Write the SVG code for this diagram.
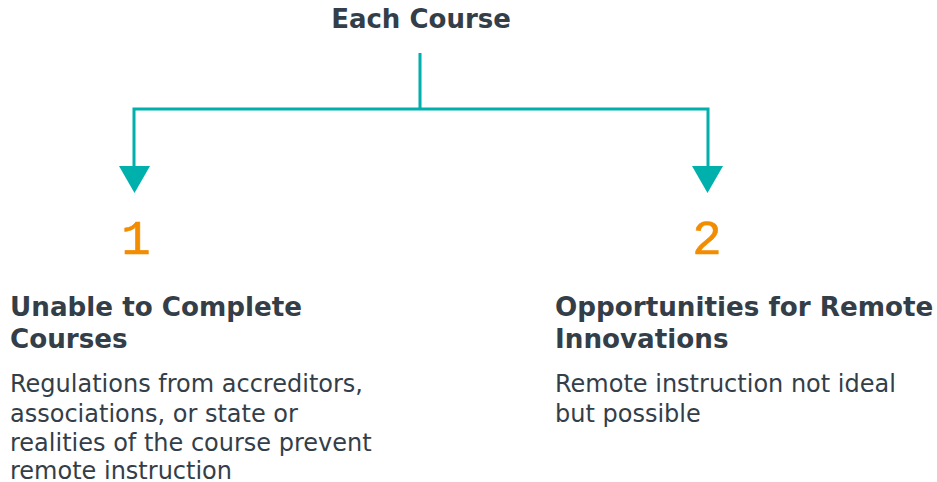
<svg xmlns="http://www.w3.org/2000/svg" width="937" height="482" viewBox="0 0 937 482">
<style>
.title{font-family:"DejaVu Sans",Verdana,sans-serif;font-weight:bold;font-size:26px;fill:#333E48}
.num{font-family:"Liberation Mono",monospace;font-size:49px;fill:#F28C00;stroke:#F28C00;stroke-width:0.6}
.head{font-family:"DejaVu Sans",Verdana,sans-serif;font-weight:bold;font-size:26.2px;fill:#333E48}
.body{font-family:"DejaVu Sans",Verdana,sans-serif;font-size:24px;fill:#333E48}
.conn{stroke:#00B0AC;stroke-width:3;fill:none}
.arrow{fill:#00B0AC}
</style>
<rect width="937" height="482" fill="#fff"/>
<g id="root"><text class="title" x="421" y="28" text-anchor="middle">Each Course</text></g>
<g id="connectors">
<path class="conn" d="M420 53 V109 M134 166 V109 H708 V166"/>
<polygon class="arrow" points="119,166 150,166 134.5,193"/>
<polygon class="arrow" points="692,166 723,166 707.5,193"/>
</g>
<g id="node1">
<text class="num" x="136" y="254" text-anchor="middle">1</text>
<text class="head" x="10" y="316">Unable to Complete</text>
<text class="head" x="10" y="348">Courses</text>
<text class="body" x="10" y="392">Regulations from accreditors,</text>
<text class="body" x="10" y="421.5">associations, or state or</text>
<text class="body" x="10" y="451">realities of the course prevent</text>
<text class="body" x="10" y="478.5">remote instruction</text>
</g>
<g id="node2">
<text class="num" x="707" y="254" text-anchor="middle">2</text>
<text class="head" x="555" y="316">Opportunities for Remote</text>
<text class="head" x="555" y="348">Innovations</text>
<text class="body" x="555" y="392">Remote instruction not ideal</text>
<text class="body" x="555" y="421.5">but possible</text>
</g>
</svg>
